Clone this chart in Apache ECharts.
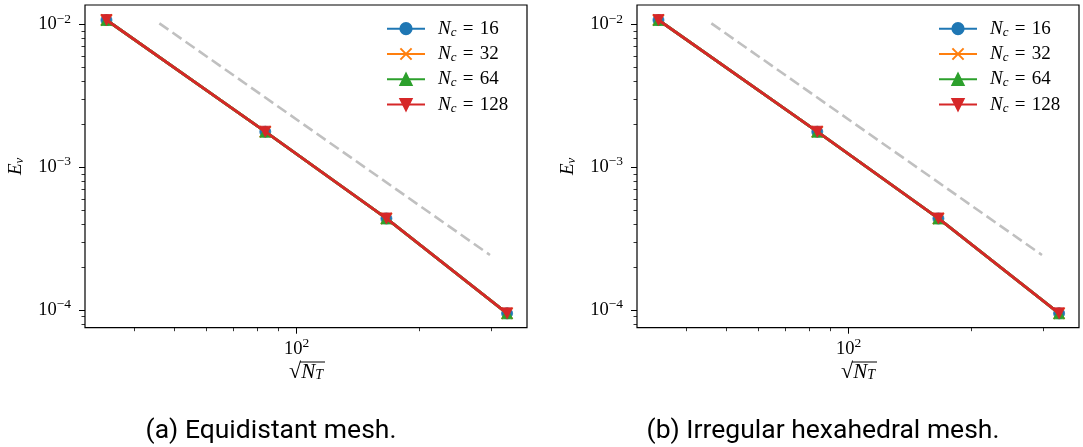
<!DOCTYPE html>
<html>
<head>
<meta charset="utf-8">
<script src="https://cdn.jsdelivr.net/npm/echarts@6/dist/echarts.min.js"></script>
<style>
  html, body { margin: 0; padding: 0; background: #fff; }
  #chart { width: 1083px; height: 447px; }
</style>
</head>
<body>
<div id="chart"></div>
<script>
// Number of coarse cells per series
const ncValues = [16, 32, 64, 128];

// sqrt(N_T) for the four refinement levels
const sqrtNtEquidistant = [34.2, 83.8, 166, 328];
const sqrtNtIrregular = [34.2, 83.8, 166, 328];

// Velocity error E_v, one row per N_c (16, 32, 64, 128)
const evEquidistant = [
  [0.01076, 0.001775, 0.000438, 0.0000948],
  [0.01076, 0.001775, 0.000438, 0.0000948],
  [0.01076, 0.001775, 0.000438, 0.0000948],
  [0.01076, 0.001775, 0.000438, 0.0000948]
];
const evIrregular = [
  [0.01076, 0.001775, 0.000438, 0.0000948],
  [0.01076, 0.001775, 0.000438, 0.0000948],
  [0.01076, 0.001775, 0.000438, 0.0000948],
  [0.01076, 0.001775, 0.000438, 0.0000948]
];

// Second-order reference slope (dashed guide)
const refSqrtNt = [46.1, 297.8];
const refEv = [0.0102, 0.000243];

// Tick positions
const xMajorTicks = [100];
const xMinorTicks = [40, 50, 60, 70, 80, 90, 200, 300];
const yMajorTicks = [1e-4, 1e-3, 1e-2];
const yMinorTicks = [8e-5, 9e-5,
  2e-4, 3e-4, 4e-4, 5e-4, 6e-4, 7e-4, 8e-4, 9e-4,
  2e-3, 3e-3, 4e-3, 5e-3, 6e-3, 7e-3, 8e-3, 9e-3];

const captions = ['(a) Equidistant mesh.', '(b) Irregular hexahedral mesh.'];

const colors = ['#1f77b4', '#ff7f0e', '#2ca02c', '#d62728'];
const symbols = [
  'circle',
  'path://M0,0L10,10M10,0L0,10',
  'triangle',
  'path://M0,0L10,0L5,10Z'
];

const X_RANGE = [30.3, 367];
const Y_RANGE = [7.52e-5, 0.01371];
const SERIF = 'Liberation Serif';

const mathRich = {
  b: { fontFamily: SERIF, fontSize: 18.5, color: '#000' },
  s: { fontFamily: SERIF, fontSize: 13.5, color: '#000', padding: [0, 0, 11, 0] }
};

function powerLabel(v) {
  const e = Math.round(Math.log10(v));
  const exp = e < 0 ? '\u2212' + (-e) : String(e);
  return '{b|10}{s|' + exp + '}';
}

const grids = [
  { left: 85, top: 5, width: 442, height: 322.7 },
  { left: 637, top: 5, width: 442, height: 322.7 }
];

const chart = echarts.init(document.getElementById('chart'), null, { renderer: 'canvas' });

const xAxes = [], yAxes = [], series = [], legends = [], graphics = [];

grids.forEach(function (g, gi) {
  const sqrtNt = gi === 0 ? sqrtNtEquidistant : sqrtNtIrregular;
  const ev = gi === 0 ? evEquidistant : evIrregular;

  // major x axis (with labels)
  xAxes.push({
    type: 'log', logBase: 10, gridIndex: gi, position: 'bottom',
    min: X_RANGE[0], max: X_RANGE[1],
    axisLine: { show: false },
    axisTick: { show: true, inside: false, length: 6, customValues: xMajorTicks,
      lineStyle: { color: '#000', width: 1 } },
    axisLabel: { show: true, customValues: xMajorTicks, margin: 9,
      formatter: powerLabel, rich: mathRich },
    splitLine: { show: false }
  });
  // minor x ticks
  xAxes.push({
    type: 'log', logBase: 10, gridIndex: gi, position: 'bottom',
    min: X_RANGE[0], max: X_RANGE[1],
    axisLine: { show: false },
    axisTick: { show: true, inside: false, length: 3.5, customValues: xMinorTicks,
      lineStyle: { color: '#000', width: 0.8 } },
    axisLabel: { show: false },
    splitLine: { show: false }
  });
  // major y axis
  yAxes.push({
    type: 'log', logBase: 10, gridIndex: gi, position: 'left',
    min: Y_RANGE[0], max: Y_RANGE[1],
    axisLine: { show: false },
    axisTick: { show: true, inside: false, length: 6, customValues: yMajorTicks,
      lineStyle: { color: '#000', width: 1 } },
    axisLabel: { show: true, customValues: yMajorTicks, margin: 14,
      formatter: powerLabel, rich: mathRich },
    splitLine: { show: false },
    name: '{i|E}{sub|v}',
    nameLocation: 'middle',
    nameRotate: 90,
    nameGap: 59,
    nameTextStyle: {
      rich: {
        i: { fontFamily: SERIF, fontStyle: 'italic', fontSize: 19, color: '#000' },
        sub: { fontFamily: SERIF, fontStyle: 'italic', fontSize: 13, color: '#000', padding: [7, 0, 0, 0] }
      }
    }
  });
  // minor y ticks
  yAxes.push({
    type: 'log', logBase: 10, gridIndex: gi, position: 'left',
    min: Y_RANGE[0], max: Y_RANGE[1],
    axisLine: { show: false },
    axisTick: { show: true, inside: false, length: 3.5, customValues: yMinorTicks,
      lineStyle: { color: '#000', width: 0.8 } },
    axisLabel: { show: false },
    splitLine: { show: false }
  });

  const xi = gi * 2, yi = gi * 2;

  // dashed slope-2 guide
  series.push({
    type: 'line', xAxisIndex: xi, yAxisIndex: yi,
    data: refSqrtNt.map(function (x, k) { return [x, refEv[k]]; }),
    symbol: 'none', silent: true, z: 2,
    lineStyle: { color: '#c0c0c0', width: 2.6, type: [11, 5] }
  });

  ncValues.forEach(function (nc, k) {
    series.push({
      name: 'N_c = ' + nc,
      type: 'line', xAxisIndex: xi, yAxisIndex: yi,
      data: sqrtNt.map(function (x, j) { return [x, ev[k][j]]; }),
      symbol: symbols[k],
      symbolSize: 11,
      z: 3 + k,
      color: colors[k],
      lineStyle: { color: colors[k], width: 2.8 },
      itemStyle: k === 1
        ? { color: colors[k], borderColor: colors[k], borderWidth: 2 }
        : { color: colors[k], borderColor: colors[k], borderWidth: 0.8 },
      emphasis: { disabled: true },
      animation: false
    });
  });

  legends.push({
    orient: 'vertical',
    left: g.left + 301, top: 19.2,
    padding: 0,
    itemWidth: 38, itemHeight: 14, itemGap: 5.8,
    data: ncValues.map(function (nc) { return 'N_c = ' + nc; }),
    formatter: function (name) {
      return '{i|N}{sub|c}{t|\u2004=\u2004' + name.split('= ')[1] + '}';
    },
    textStyle: {
      rich: {
        i: { fontFamily: SERIF, fontStyle: 'italic', fontSize: 19, color: '#000', padding: [0, 0, 0, 8] },
        sub: { fontFamily: SERIF, fontStyle: 'italic', fontSize: 13, color: '#000', padding: [7, 0, 0, 0] },
        t: { fontFamily: SERIF, fontSize: 19, color: '#000' }
      }
    },
    selectedMode: false
  });

  // x axis name: sqrt(N_T) with radical bar
  const cx = g.left + g.width / 2;
  graphics.push({
    type: 'group', x: cx, y: 372,
    children: [
      { type: 'text', x: 0, y: 0,
        style: {
          text: '{r|\u221A}{o|N}{sub|T}',
          align: 'center', verticalAlign: 'middle',
          rich: {
            r: { fontFamily: SERIF, fontSize: 22, color: '#000' },
            o: { fontFamily: SERIF, fontStyle: 'italic', fontSize: 21, color: '#000' },
            sub: { fontFamily: SERIF, fontStyle: 'italic', fontSize: 14, color: '#000', padding: [7, 0, 0, 0] }
          }
        } },
      { type: 'line', shape: { x1: -6, y1: -10, x2: 19, y2: -10 },
        style: { stroke: '#000', lineWidth: 1 } }
    ]
  });

  graphics.push({
    type: 'text', x: cx - 35, y: 431,
    style: { text: captions[gi], fontFamily: 'Roboto', fontSize: 26.5, fill: '#000',
      align: 'center', verticalAlign: 'middle' }
  });
});

chart.setOption({
  animation: false,
  backgroundColor: '#fff',
  grid: grids.map(function (g) {
    return Object.assign({ show: true, borderColor: '#000', borderWidth: 1.2,
      backgroundColor: 'transparent', containLabel: false }, g);
  }),
  xAxis: xAxes,
  yAxis: yAxes,
  legend: legends,
  series: series,
  graphic: graphics
});
</script>
</body>
</html>
